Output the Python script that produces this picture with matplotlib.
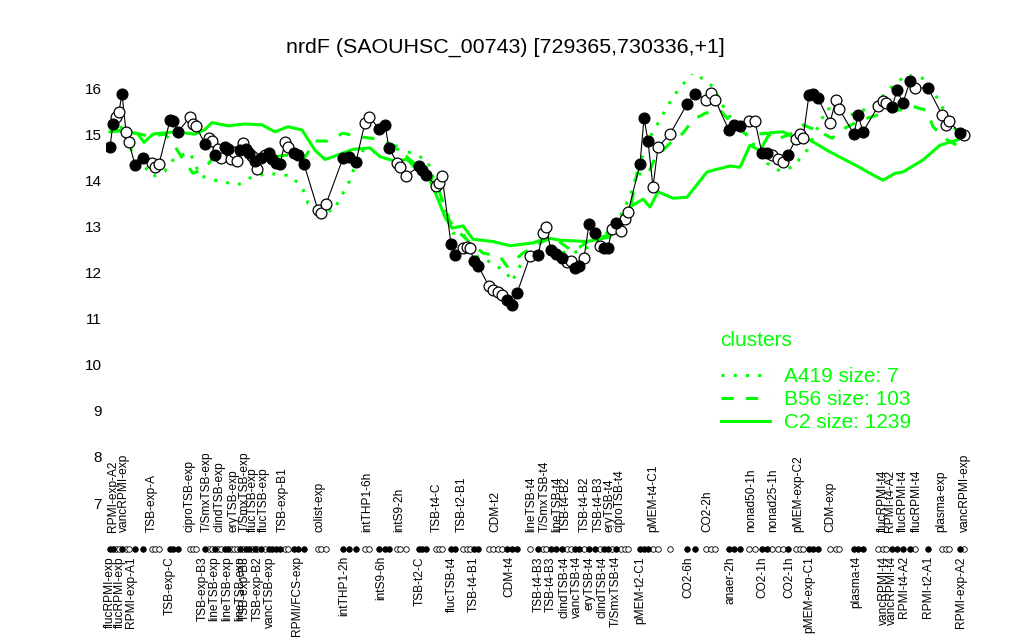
import matplotlib
matplotlib.use("Agg")
import matplotlib.pyplot as plt
import numpy as np

plt.rcParams['font.family'] = ['Liberation Sans', 'DejaVu Sans']

# ---------------- data ----------------
title = "nrdF (SAOUHSC_00743) [729365,730336,+1]"

sample_pos = [110, 113, 116, 119, 122, 126, 129, 135, 143, 152, 155, 159, 170, 173, 178,
              190, 193, 196, 205, 209, 212, 215, 218, 221, 225, 228, 231, 234, 237, 240,
              243, 246, 249, 252, 255, 257, 261, 265, 269, 272, 276, 280, 285, 288, 294,
              298, 304, 318, 321, 326, 343, 349, 356, 365, 369, 379, 385, 389, 397, 400,
              406, 419, 422, 426, 436, 439, 442, 451, 455, 463, 467, 470, 474, 478, 489,
              493, 498, 502, 507, 512, 517, 530, 538, 543, 546, 551, 556, 562, 567, 571,
              575, 579, 584, 589, 595, 600, 604, 608, 612, 616, 621, 625, 628, 640, 644,
              648, 653, 658, 670, 687, 695, 706, 711, 715, 729, 734, 740, 749, 755, 762,
              767, 772, 778, 783, 788, 796, 800, 803, 809, 813, 818, 830, 836, 839, 854,
              858, 863, 878, 883, 886, 892, 897, 903, 910, 915, 928, 942, 946, 949, 960, 964]
expr = [14.72, 15.23, 15.38, 15.48, 15.88, 15.05, 14.82, 14.33, 14.48, 14.38, 14.28, 14.35, 15.30, 15.28, 15.05,
        15.37, 15.22, 15.18, 14.78, 14.92, 14.85, 14.55, 14.68, 14.48, 14.72, 14.68, 14.45, 14.62, 14.42, 14.65,
        14.80, 14.68, 14.60, 14.52, 14.42, 14.25, 14.48, 14.55, 14.60, 14.45, 14.38, 14.35, 14.82, 14.72, 14.58,
        14.55, 14.35, 13.35, 13.28, 13.48, 14.48, 14.50, 14.40, 15.25, 15.38, 15.12, 15.20, 14.70, 14.38, 14.28,
        14.10, 14.30, 14.22, 14.12, 13.88, 13.95, 14.10, 12.62, 12.38, 12.52, 12.55, 12.52, 12.25, 12.15, 11.70,
        11.62, 11.58, 11.50, 11.40, 11.30, 11.55, 12.35, 12.38, 12.85, 12.98, 12.48, 12.40, 12.32, 12.22, 12.25,
        12.10, 12.15, 12.32, 13.05, 12.85, 12.58, 12.52, 12.52, 12.95, 13.08, 12.90, 13.15, 13.30, 14.35, 15.35,
        14.85, 13.85, 14.72, 15.00, 15.65, 15.88, 15.75, 15.90, 15.75, 15.08, 15.20, 15.18, 15.28, 15.28, 14.58,
        14.60, 14.55, 14.45, 14.40, 14.55, 14.90, 15.00, 14.92, 15.85, 15.88, 15.78, 15.25, 15.75, 15.55, 15.00,
        15.42, 15.05, 15.60, 15.72, 15.68, 15.58, 15.95, 15.68, 16.15, 16.00, 16.00, 15.42, 15.20, 15.28, 15.02, 14.98]
filled = [1, 1, 0, 0, 1, 0, 0, 1, 1, 0, 0, 0, 1, 1, 1,
          0, 0, 0, 1, 0, 0, 1, 0, 0, 1, 1, 0, 0, 0, 1,
          0, 1, 1, 0, 1, 0, 1, 0, 1, 1, 1, 1, 0, 0, 1,
          1, 1, 0, 0, 0, 1, 1, 1, 0, 0, 1, 1, 1, 0, 0,
          0, 1, 1, 1, 0, 0, 0, 1, 1, 0, 0, 0, 1, 1, 0,
          0, 0, 0, 1, 1, 1, 0, 1, 0, 0, 1, 1, 1, 0, 0,
          1, 1, 0, 1, 1, 0, 1, 1, 0, 1, 0, 0, 0, 1, 1,
          1, 0, 0, 0, 1, 1, 0, 0, 0, 1, 1, 1, 0, 0, 1,
          1, 0, 0, 0, 1, 0, 0, 0, 1, 1, 1, 0, 0, 0, 1,
          1, 1, 0, 0, 0, 1, 1, 1, 1, 0, 1, 0, 0, 0, 1, 0]

top_label_pos = [113, 124, 152, 190, 207, 220, 233, 245, 253, 264, 283, 320, 367, 399, 437,
                 462, 495, 531, 545, 557, 566, 585, 599, 610, 620, 653, 707, 751, 773, 798,
                 830, 883, 890, 903, 917, 941, 965]
top_labels = ["RPMI-exp-A2", "vancRPMI-exp", "TSB-exp-A", "ciproTSB-exp", "T/SmxTSB-exp",
              "clindTSB-exp", "eryTSB-exp", "T/SmxTSB-exp", "flucTSB-exp", "flucTSB-exp",
              "TSB-exp-B1", "colist-exp", "intTHP1-6h", "intS9-2h", "TSB-t4-C",
              "TSB-t2-B1", "CDM-t2", "lineTSB-t4", "T/SmxTSB-t4", "lineTSB-t4",
              "TSB-t4-B2", "TSB-t4-B2", "TSB-t4-B3", "eryTSB-t4", "ciproTSB-t4",
              "pMEM-t4-C1", "CO2-2h", "nonad50-1h", "nonad25-1h", "pMEM-exp-C2",
              "CDM-exp", "flucRPMI-t4", "RPMI-t4-A2", "flucRPMI-t4", "flucRPMI-t4",
              "plasma-exp", "vancRPMI-exp"]
bottom_label_pos = [110, 120, 131, 170, 203, 214, 227, 240, 245, 258, 270, 297, 344, 381, 420,
                    452, 474, 509, 539, 551, 564, 577, 590, 603, 616, 640, 688, 731, 762, 789,
                    809, 856, 884, 892, 904, 928, 961]
bottom_labels = ["flucRPMI-exp", "flucRPMI-exp", "RPMI-exp-A1", "TSB-exp-C", "TSB-exp-B3",
                 "lineTSB-exp", "lineTSB-exp", "lineTSB-exp", "TSB-exp-B3", "TSB-exp-B2",
                 "vancTSB-exp", "RPMI/FCS-exp", "intTHP1-2h", "intS9-6h", "TSB-t2-C",
                 "flucTSB-t4", "TSB-t4-B1", "CDM-t4", "TSB-t4-B3", "TSB-t4-B3",
                 "clindTSB-t4", "vancTSB-t4", "eryTSB-t4", "clindTSB-t4", "T/SmxTSB-t4",
                 "pMEM-t2-C1", "CO2-6h", "anaer-2h", "CO2-1h", "CO2-1h",
                 "pMEM-exp-C1", "plasma-t4", "vancRPMI-t4", "vancRPMI-t4", "RPMI-t4-A2",
                 "RPMI-t2-A1", "RPMI-exp-A2"]

c2_pos = [110, 125, 138, 144, 153, 175, 195, 205, 212, 228, 245, 262, 275, 288, 302, 315, 325,
          333, 353, 370, 380, 397, 407, 417, 430, 437, 445, 452, 463, 473, 493, 510, 533, 547,
          560, 587, 610, 630, 643, 650, 658, 673, 687, 707, 730, 740, 750, 760, 770, 783, 793,
          810, 827, 840, 857, 870, 883, 895, 903, 923, 940, 957, 965]
c2_val = [15.05, 15.08, 15.00, 14.82, 15.00, 15.05, 15.00, 15.10, 15.25, 15.18, 15.22, 15.20, 15.05,
          15.16, 15.09, 14.65, 14.45, 14.51, 14.67, 14.70, 14.51, 14.40, 14.46, 14.22, 14.00, 13.64,
          13.20, 12.96, 13.01, 12.72, 12.67, 12.58, 12.64, 12.75, 12.70, 12.67, 12.77, 13.42, 13.59,
          13.42, 13.75, 13.61, 13.63, 14.18, 14.31, 14.28, 14.76, 14.64, 15.03, 15.05, 14.94, 14.87,
          14.65, 14.50, 14.31, 14.15, 14.00, 14.15, 14.18, 14.44, 14.76, 14.87, 14.95]
b56_pos = [110, 130, 150, 165, 172, 183, 193, 205, 215, 230, 250, 270, 290, 305, 315, 327, 343,
           360, 375, 397, 410, 425, 437, 450, 460, 470, 483, 500, 507, 523, 540, 553, 573, 590,
           617, 630, 637, 647, 655, 670, 683, 693, 705, 720, 732, 747, 767, 775, 790, 803, 820,
           832, 845, 860, 877, 895, 913, 927, 933, 945, 960, 965]
b56_val = [15.10, 15.05, 14.95, 15.00, 14.84, 14.45, 14.15, 14.25, 14.55, 14.60, 14.55, 14.50, 14.55,
           14.50, 14.85, 14.85, 15.02, 14.94, 14.90, 14.73, 14.44, 14.20, 13.90, 13.10, 12.85, 12.65,
           12.42, 12.35, 12.13, 12.42, 12.64, 12.77, 12.45, 12.70, 12.86, 13.30, 14.16, 14.08, 14.48,
           14.80, 15.02, 15.31, 15.45, 15.52, 15.23, 14.98, 15.02, 14.87, 15.00, 15.20, 15.05, 14.91,
           15.13, 15.30, 15.41, 15.50, 15.60, 15.51, 15.16, 14.90, 14.72, 14.70]
a419_pos = [110, 120, 132, 153, 165, 175, 190, 200, 215, 238, 250, 268, 290, 302, 308, 320, 333,
            350, 360, 375, 387, 410, 427, 433, 445, 453, 463, 477, 493, 507, 512, 523, 540, 555,
            573, 590, 615, 630, 640, 650, 660, 673, 693, 713, 727, 747, 767, 780, 793, 807, 827,
            850, 873, 895, 910, 927, 940, 960, 965]
a419_val = [15.10, 15.20, 14.62, 14.08, 14.20, 14.50, 14.60, 14.10, 14.00, 13.90, 14.05, 14.15, 14.10,
            13.86, 13.50, 13.40, 13.32, 14.00, 14.65, 14.60, 14.73, 14.60, 14.44, 14.08, 13.30, 12.85,
            12.85, 12.35, 12.20, 11.98, 11.80, 12.27, 12.35, 12.45, 12.42, 12.56, 13.00, 13.64, 14.37,
            14.94, 15.31, 15.81, 16.35, 16.03, 15.45, 14.98, 14.37, 14.20, 14.29, 14.65, 15.56, 15.41,
            15.60, 16.10, 16.32, 16.17, 15.67, 14.94, 14.85]

legend_title = "clusters"
legend_labels = ["A419 size: 7", "B56 size: 103", "C2 size: 1239"]
yticks = [7, 8, 9, 10, 11, 12, 13, 14, 15, 16]

# ---------------- layout ----------------
W, H = 1024, 640
fig = plt.figure(figsize=(W / 100, H / 100), dpi=100)
px_left, px_right = 106, 975
y_lo, y_hi = 6.8, 16.3
px_per_unit = (503 - 88) / 9.0
px_top = 88 - (y_hi - 16) * px_per_unit
px_bot = 503 + (7 - y_lo) * px_per_unit
ax = fig.add_axes([px_left / W, 1 - px_bot / H, (px_right - px_left) / W, (px_bot - px_top) / H])
ax.set_xlim(px_left, px_right)
ax.set_ylim(y_lo, y_hi)
for s in ax.spines.values():
    s.set_visible(False)
ax.set_xticks([])
ax.set_yticks(yticks)
ax.set_yticklabels([str(v) for v in yticks], fontsize=11)
ax.tick_params(axis='y', length=0, pad=3)

green = '#00FF00'
lA, = ax.plot(a419_pos, a419_val, color=green, lw=2.2, linestyle=(0, (1, 3)), zorder=2)
lB, = ax.plot(b56_pos, b56_val, color=green, lw=2.2, linestyle=(0, (4, 4)), zorder=2)
lC, = ax.plot(c2_pos, c2_val, color=green, lw=2.2, linestyle='-', zorder=2)

xs = np.array(sample_pos)
ys = np.array(expr)
fl = np.array(filled, dtype=bool)
ax.plot(xs, ys, color='black', lw=0.8, zorder=3)
ax.plot(xs[~fl], ys[~fl], 'o', ms=7.8, mfc='white', mec='black', mew=0.9, zorder=4)
ax.plot(xs[fl], ys[fl], 'o', ms=7.8, mfc='black', mec='black', mew=0.9, zorder=4)

# sample marker row below axis
row_y = min(yticks) - 1
ax.plot(xs[~fl], np.full((~fl).sum(), row_y), 'o', ms=4.0, mfc='white', mec='black', mew=0.6, clip_on=False)
ax.plot(xs[fl], np.full(fl.sum(), row_y), 'o', ms=4.0, mfc='black', mec='black', mew=0.6, clip_on=False)

top_y = row_y + 0.37
bot_y = row_y - 0.15
for p, t in zip(top_label_pos, top_labels):
    ax.text(p, top_y, t, rotation=90, ha='center', va='bottom', fontsize=8.6)
for p, t in zip(bottom_label_pos, bottom_labels):
    ax.text(p, bot_y, t, rotation=90, ha='center', va='top', fontsize=8.6)

fig.text(505 / W, 1 - 47 / H, title, ha='center', va='center', fontsize=15.4)

leg_fs = 15
em = leg_fs * 100 / 72
leg = ax.legend([lA, lB, lC], legend_labels, loc='upper left',
                bbox_to_anchor=(721 / W, 1 - 367 / H), bbox_transform=fig.transFigure,
                frameon=False, fontsize=leg_fs, handlelength=49 / em,
                handletextpad=14 / em, labelspacing=0.2, borderpad=0, borderaxespad=0,
                labelcolor=green)
fig.text(720 / W, 1 - 341 / H, legend_title, ha='left', va='center', fontsize=leg_fs, color=green)

fig.savefig('out.png', dpi=100)
